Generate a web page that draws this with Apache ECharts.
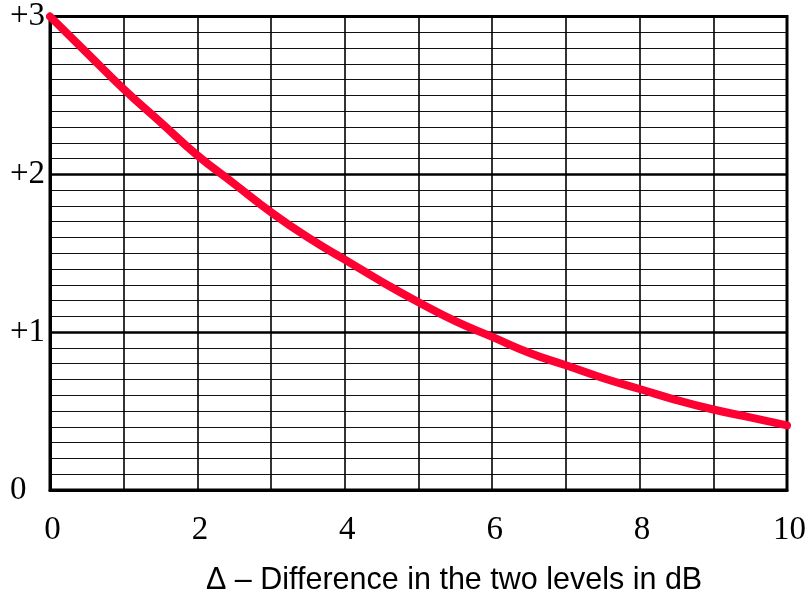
<!DOCTYPE html>
<html>
<head>
<meta charset="utf-8">
<script src="https://cdn.jsdelivr.net/npm/echarts@6/dist/echarts.min.js"></script>
<style>html,body{margin:0;padding:0;background:#fff;}#c{width:810px;height:599px;}</style>
</head>
<body>
<div id="c"></div>
<script>
const deltaDb = [0, 0.5, 1, 1.5, 2, 2.5, 3, 3.5, 4, 4.5, 5, 5.5, 6, 6.5, 7, 7.5, 8, 8.5, 9, 9.5, 10];
const addDb = [3.0, 2.77, 2.54, 2.33, 2.12, 1.94, 1.76, 1.60, 1.46, 1.32, 1.19, 1.07, 0.97, 0.87, 0.79, 0.71, 0.64, 0.57, 0.51, 0.46, 0.41];
const xTickLabels = {0: '0', 2: '2', 4: '4', 6: '6', 8: '8', 10: '10'};
const yTickLabels = {0: '0', 1: '+1', 2: '+2', 3: '+3'};
const axisTitle = 'Δ – Difference in the two levels in dB';

const chart = echarts.init(document.getElementById('c'), null, {renderer: 'canvas'});
chart.setOption({
  animation: false,
  backgroundColor: '#fff',
  title: {
    text: axisTitle,
    left: 201, top: 560,
    textStyle: {fontFamily: 'Liberation Sans, Arial, sans-serif', fontSize: 30.5, fontWeight: 'normal', color: '#000'}
  },
  grid: {left: 50, right: 23, top: 14, bottom: 109, show: true, borderColor: '#000', borderWidth: 3, backgroundColor: 'transparent'},
  xAxis: {
    type: 'value', min: 0, max: 10, interval: 1,
    axisLine: {show: true, lineStyle: {color: '#000', width: 3}},
    axisTick: {show: false},
    axisLabel: {
      margin: 24, color: '#000', fontFamily: 'Liberation Serif, Times New Roman, serif', fontSize: 33,
      padding: [0, 0, 0, 5],
      formatter: v => (xTickLabels[v] !== undefined ? xTickLabels[v] : '')
    },
    splitLine: {show: true, lineStyle: {color: '#000', width: 1.6}}
  },
  yAxis: {
    type: 'value', min: 0, max: 3, interval: 1,
    axisLine: {show: true, lineStyle: {color: '#000', width: 3}},
    axisTick: {show: false},
    axisLabel: {
      margin: 40, align: 'left', color: '#000', fontFamily: 'Liberation Serif, Times New Roman, serif', fontSize: 33,
      padding: [4, 0, 0, 0],
      formatter: v => (yTickLabels[v] !== undefined ? yTickLabels[v] : '')
    },
    splitLine: {show: true, lineStyle: {color: '#000', width: 2.5}},
    minorTick: {show: false, splitNumber: 10},
    minorSplitLine: {show: true, lineStyle: {color: '#111', width: 1.2}}
  },
  series: [{
    type: 'line',
    data: deltaDb.map((x, i) => [x, addDb[i]]),
    smooth: true,
    showSymbol: false,
    clip: false,
    lineStyle: {color: '#FF0033', width: 8, cap: 'round'},
    z: 5
  }]
});
</script>
</body>
</html>
